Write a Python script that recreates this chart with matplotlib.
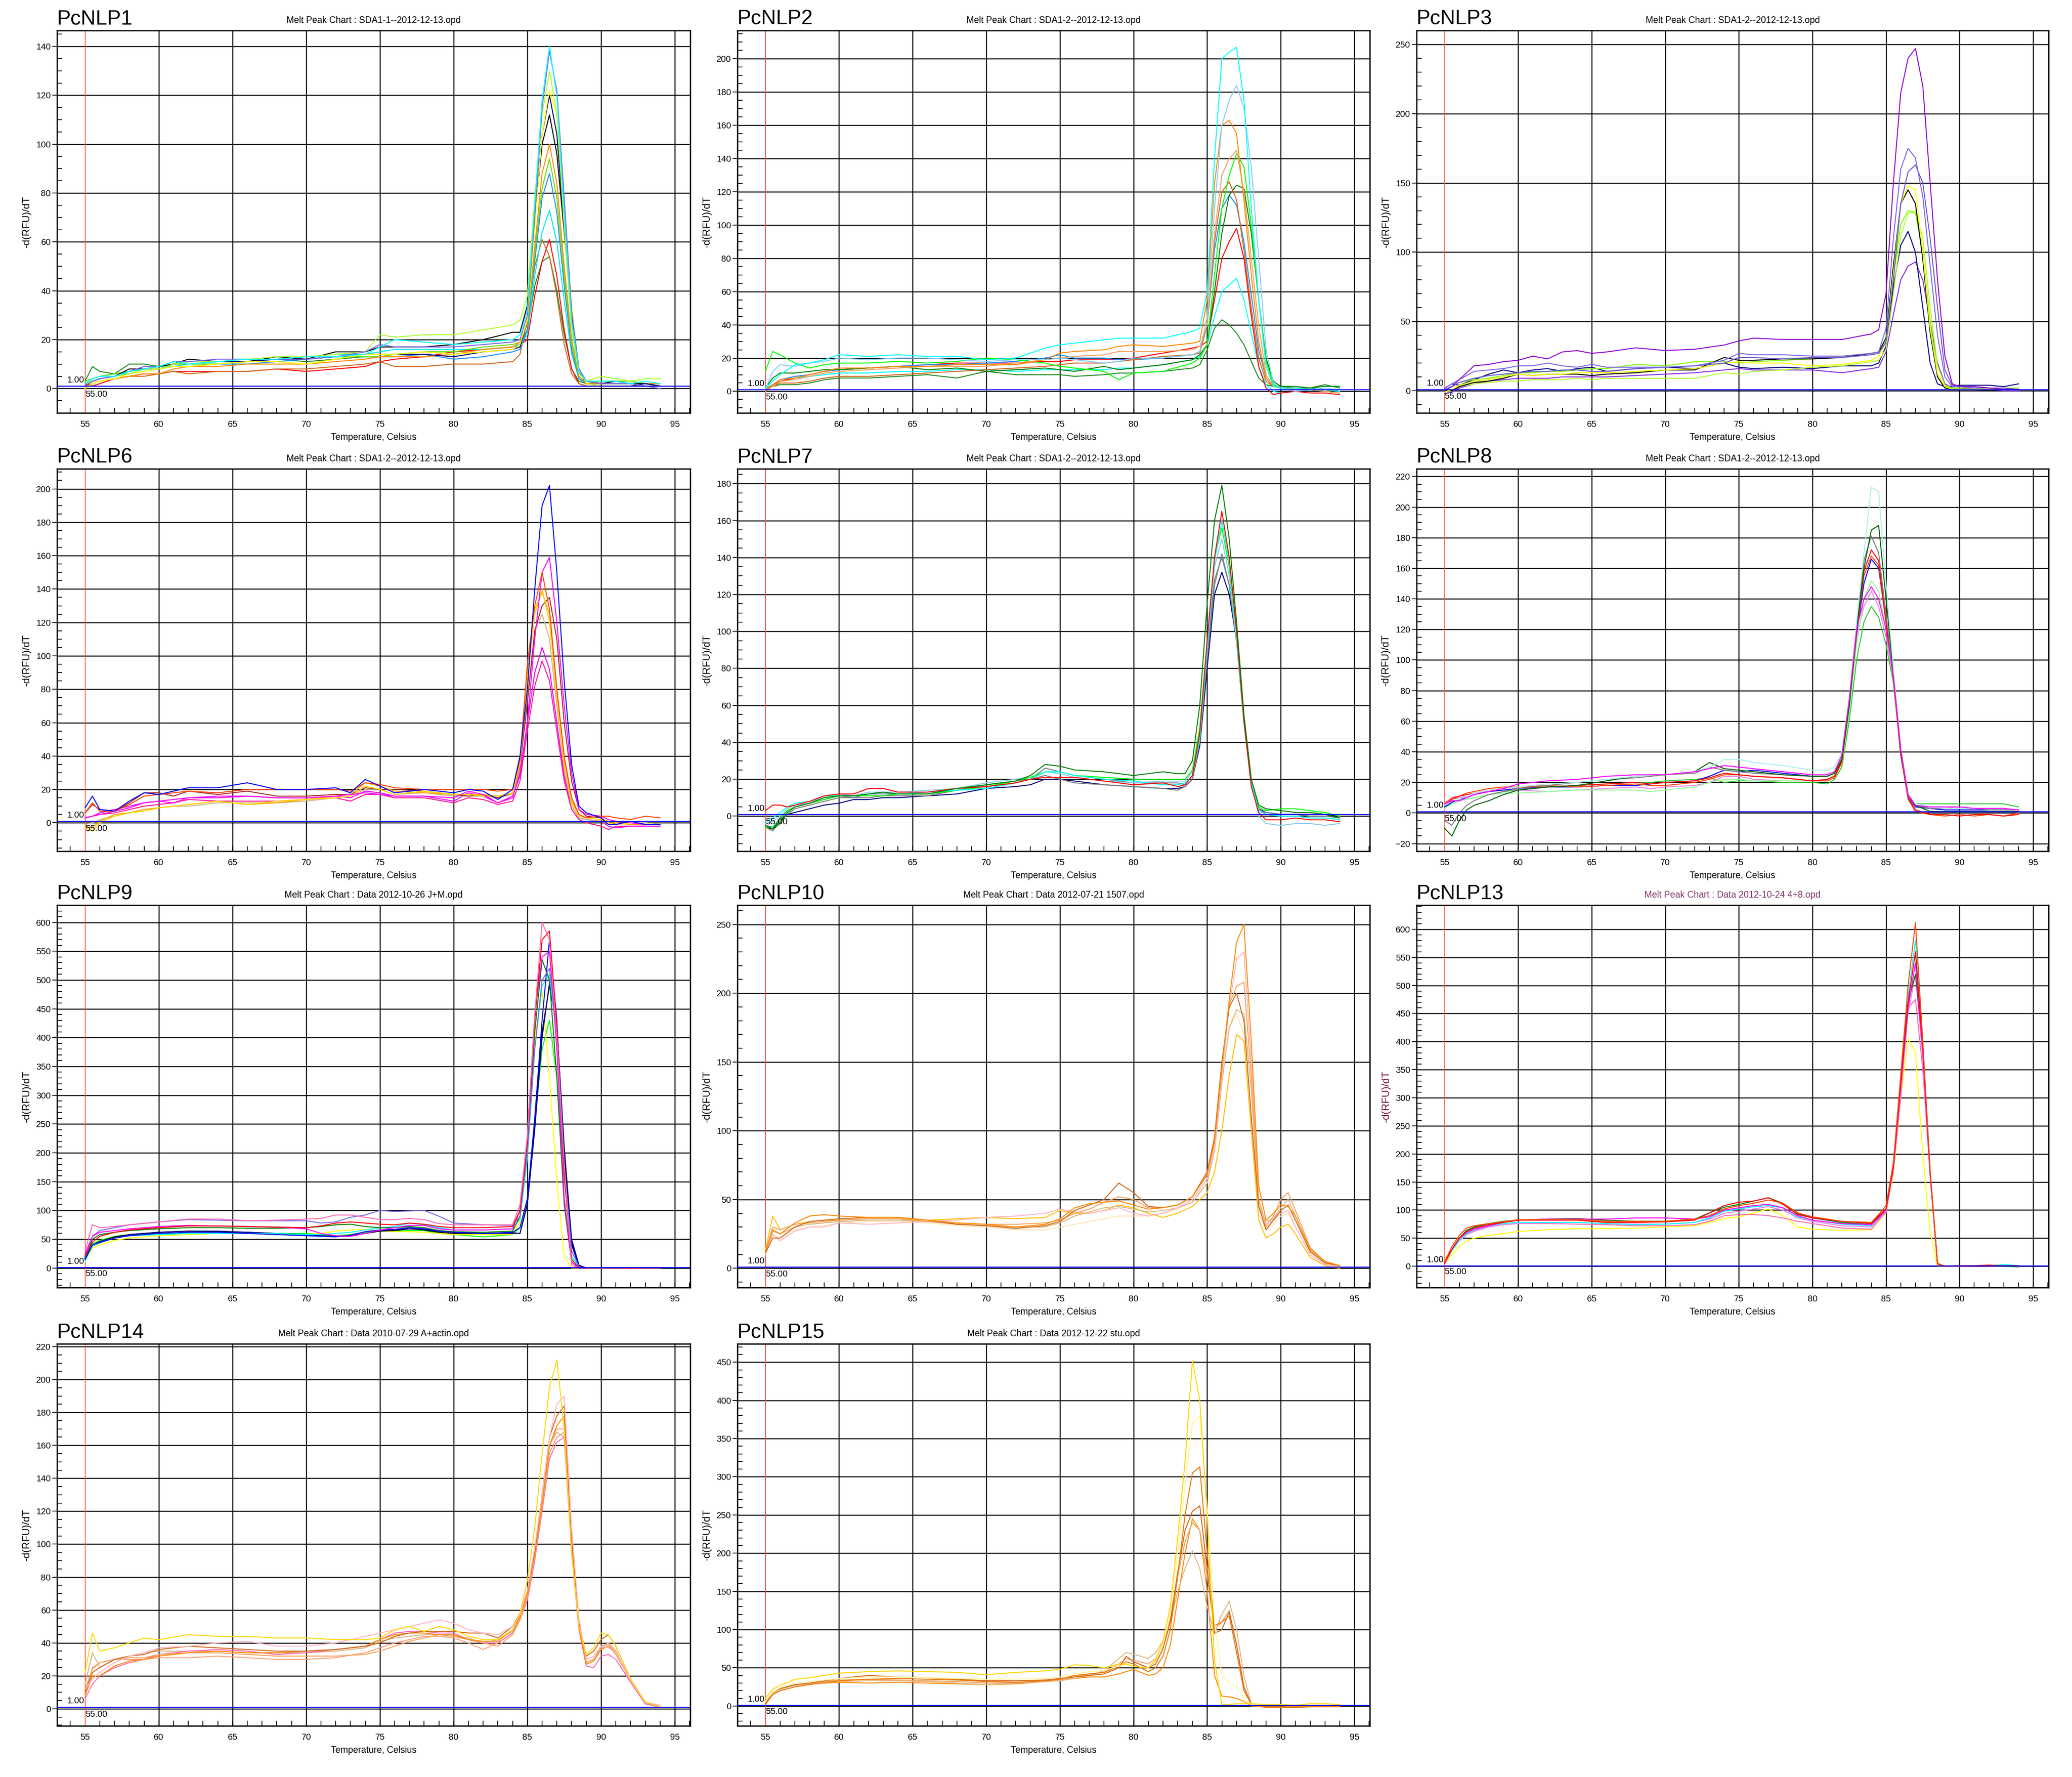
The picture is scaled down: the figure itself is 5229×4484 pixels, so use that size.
import matplotlib
matplotlib.use('Agg')
import matplotlib.pyplot as plt
from matplotlib.ticker import MultipleLocator

plt.rcParams['font.family'] = ['Liberation Sans', 'DejaVu Sans']

# ---------------- PcNLP1 ----------------
p1_temp = [55, 55.5, 56, 57, 58, 59, 60, 61, 62, 64, 66, 68, 70, 72, 74, 75, 76, 78, 80, 82, 84, 84.5,
           85, 85.5, 86, 86.5, 87, 87.5, 88, 88.5, 89, 90, 91, 92, 93, 94]
p1_cyan = [2, 4, 5, 5, 7, 8, 9, 11, 10, 11, 12, 12, 13, 13, 14, 17, 20, 19, 18, 19, 20, 22,
           32, 75, 118, 140, 120, 72, 28, 7, 3, 3, 3, 2, 3, 2]
p1_slate = [1, 3, 4, 5, 7, 9, 9, 11, 11, 12, 12, 12, 12, 13, 15, 18, 17, 17, 17, 18, 19, 20,
            30, 70, 115, 138, 122, 78, 32, 8, 3, 2, 2, 2, 1, 0]
p1_greenyellow = [2, 3, 4, 5, 6, 8, 8, 10, 11, 11, 12, 13, 13, 14, 15, 22, 21, 22, 22, 24, 26, 28,
                  38, 78, 112, 130, 112, 66, 24, 6, 3, 5, 4, 3, 4, 4]
p1_yellow = [0, 2, 3, 4, 6, 7, 8, 9, 9, 10, 11, 11, 10, 12, 14, 14, 14, 15, 14, 15, 16, 18,
             28, 66, 104, 122, 112, 76, 34, 8, 2, 1, 1, 1, 1, 1]
p1_navy = [1, 3, 4, 5, 7, 8, 8, 10, 11, 11, 11, 12, 12, 13, 14, 14, 14, 14, 13, 15, 16, 17,
           28, 68, 104, 120, 104, 66, 28, 7, 2, 1, 1, 1, 2, 1]
p1_black = [1, 3, 4, 5, 8, 8, 9, 10, 12, 11, 11, 13, 12, 15, 15, 17, 17, 17, 18, 20, 23, 23,
            34, 70, 100, 112, 96, 64, 30, 8, 3, 2, 3, 2, 2, 1]
p1_orange = [0, 2, 3, 4, 5, 6, 6, 8, 9, 9, 10, 10, 10, 11, 12, 13, 13, 13, 14, 16, 17, 19,
             26, 58, 88, 100, 84, 50, 20, 5, 2, 2, 2, 2, 2, 2]
p1_lime = [3, 4, 5, 6, 7, 8, 9, 10, 10, 10, 11, 12, 12, 13, 13, 13, 14, 15, 15, 17, 18, 19,
           26, 55, 82, 94, 78, 46, 18, 5, 2, 3, 3, 3, 2, 2]
p1_dodger = [2, 3, 4, 5, 6, 7, 8, 9, 9, 10, 10, 11, 12, 13, 13, 13, 13, 14, 12, 13, 15, 16,
             24, 52, 78, 88, 72, 42, 16, 4, 2, 2, 2, 2, 2, 1]
p1_cyan2 = [2, 4, 5, 6, 6, 8, 9, 9, 10, 10, 11, 12, 13, 14, 14, 15, 16, 16, 16, 16, 17, 18,
            22, 46, 64, 73, 60, 36, 14, 4, 2, 2, 2, 2, 2, 2]
p1_chocolate = [1, 2, 3, 4, 5, 5, 6, 7, 6, 7, 7, 8, 8, 9, 10, 11, 9, 9, 10, 10, 11, 14,
                28, 50, 61, 54, 38, 18, 6, 2, 1, 1, 1, 1, 1, 1]
p1_red = [2, 1, 2, 4, 5, 6, 6, 7, 7, 7, 7, 8, 7, 8, 9, 11, 12, 13, 15, 16, 17, 18,
          20, 38, 52, 61, 46, 24, 8, 2, 1, 1, 1, 1, 1, 1]
p1_green = [3, 9, 7, 6, 10, 10, 9, 10, 10, 11, 11, 12, 11, 12, 13, 13, 14, 15, 15, 16, 17, 18,
            24, 42, 52, 54, 40, 22, 8, 3, 2, 2, 2, 2, 2, 2]

# ---------------- PcNLP2 ----------------
p2_temp = [55, 55.5, 56, 57, 58, 59, 60, 62, 64, 66, 68, 70, 72, 74, 75, 76, 78, 79, 80, 82, 84, 84.5,
           85, 85.5, 86, 86.5, 87, 87.5, 88, 88.5, 89, 89.5, 90, 91, 92, 93, 94]
p2_cyan = [2, 6, 10, 16, 17, 19, 22, 21, 22, 21, 21, 19, 20, 26, 28, 29, 31, 32, 32, 32, 36, 38,
           60, 140, 200, 204, 207, 175, 110, 55, 15, 3, 2, 2, 1, 1, 0]
p2_skyblue = [1, 12, 16, 15, 17, 18, 20, 19, 20, 20, 19, 18, 19, 19, 20, 19, 17, 18, 20, 20, 22, 24,
              45, 110, 160, 175, 184, 170, 135, 80, 25, 5, 2, 0, 1, 2, 1]
p2_orange = [1, 4, 7, 8, 10, 12, 14, 14, 15, 15, 16, 16, 16, 19, 23, 24, 25, 27, 28, 27, 29, 30,
             55, 125, 160, 163, 155, 115, 70, 30, 8, 3, 2, 2, 1, 1, 0]
p2_sandy = [0, 3, 6, 7, 9, 11, 12, 13, 14, 15, 15, 15, 17, 19, 20, 21, 22, 24, 24, 24, 25, 27,
            40, 95, 130, 140, 145, 120, 80, 40, 10, 3, 2, 1, 1, 0, -1]
p2_lime = [12, 24, 22, 17, 14, 16, 17, 17, 18, 17, 18, 20, 19, 17, 15, 14, 12, 7, 11, 12, 17, 20,
           28, 70, 110, 130, 143, 135, 100, 55, 18, 4, 2, 2, 1, 0, -1]
p2_chocolate = [1, 3, 5, 5, 6, 8, 9, 9, 10, 11, 12, 13, 14, 15, 16, 17, 17, 18, 19, 21, 22, 23,
                40, 90, 120, 126, 115, 85, 50, 20, 6, 3, 2, 2, 1, 0, -1]
p2_green = [2, 8, 11, 11, 12, 13, 13, 14, 15, 13, 14, 12, 13, 14, 13, 12, 15, 13, 14, 16, 19, 22,
            28, 60, 95, 118, 124, 122, 95, 55, 20, 6, 3, 2, 2, 3, 3]
p2_dodger = [1, 4, 7, 9, 10, 12, 13, 14, 15, 16, 16, 17, 18, 20, 22, 20, 20, 19, 19, 20, 22, 24,
             40, 85, 110, 118, 112, 90, 58, 25, 8, 3, 2, 2, 2, 1, 0]
p2_red = [1, 4, 6, 8, 10, 12, 13, 14, 15, 16, 17, 17, 17, 18, 18, 19, 19, 19, 20, 23, 26, 27,
          30, 55, 80, 90, 98, 80, 45, 15, 2, -2, -1, 0, -1, -1, -2]
p2_cyan2 = [2, 4, 6, 8, 9, 10, 11, 11, 12, 12, 13, 13, 12, 13, 13, 13, 13, 14, 14, 16, 19, 21,
            28, 45, 60, 64, 68, 55, 35, 15, 4, 0, -1, 0, 1, 0, -1]
p2_forest = [1, 3, 4, 4, 5, 7, 8, 8, 9, 10, 8, 12, 10, 10, 10, 9, 10, 11, 11, 12, 14, 16,
             25, 38, 43, 40, 35, 28, 18, 8, 4, 3, 3, 3, 2, 4, 2]

# ---------------- PcNLP3 ----------------
p3_temp = [55, 55.5, 56, 57, 58, 59, 60, 61, 62, 63, 64, 65, 66, 68, 70, 72, 74, 75, 76, 78, 80, 82, 84, 84.5,
           85, 85.5, 86, 86.5, 87, 87.5, 88, 88.5, 89, 89.5, 90, 91, 92, 93, 94]
p3_violet = [0, 3, 8, 18, 19, 21, 22, 25, 23, 28, 29, 27, 28, 31, 29, 30, 33, 36, 38, 37, 37, 37, 41, 44,
             70, 150, 215, 240, 247, 220, 150, 80, 25, 5, 3, 3, 2, 1, 1]
p3_mslate = [2, 5, 8, 14, 15, 16, 18, 18, 20, 18, 17, 19, 17, 17, 17, 18, 22, 27, 26, 26, 25, 25, 27, 28,
             45, 110, 160, 175, 168, 140, 90, 40, 10, 3, 3, 2, 2, 1, 1]
p3_slate = [1, 3, 6, 9, 11, 12, 13, 14, 14, 15, 15, 14, 14, 16, 17, 18, 20, 24, 24, 23, 24, 24, 26, 27,
            35, 80, 135, 158, 163, 150, 110, 60, 15, 4, 3, 3, 2, 2, 1]
p3_yellow = [-1, 1, 4, 7, 8, 10, 12, 11, 12, 12, 13, 13, 13, 14, 15, 16, 20, 21, 20, 20, 18, 19, 22, 25,
             35, 85, 135, 148, 145, 100, 45, 12, 3, 1, 1, 1, 1, 1, 1]
p3_black = [0, 0, 3, 6, 7, 9, 12, 11, 12, 12, 12, 11, 12, 13, 15, 15, 24, 22, 22, 23, 23, 24, 27, 28,
            38, 90, 135, 145, 135, 95, 42, 10, 2, 1, 1, 1, 0, 1, 1]
p3_greenyellow = [-1, 0, 3, 5, 6, 7, 7, 8, 8, 8, 9, 8, 9, 9, 9, 9, 13, 12, 14, 15, 17, 18, 21, 22,
                  30, 70, 112, 128, 130, 110, 60, 18, 4, 2, 1, 1, 1, 1, 1]
p3_lawngreen = [1, 3, 6, 8, 9, 11, 13, 13, 14, 14, 15, 16, 16, 19, 18, 21, 21, 20, 21, 22, 23, 25, 27, 28,
                36, 82, 120, 130, 128, 100, 50, 12, 3, 2, 2, 2, 1, 2, 2]
p3_navy = [2, 5, 4, 8, 12, 15, 13, 15, 16, 14, 16, 17, 14, 16, 17, 16, 20, 17, 16, 17, 16, 18, 18, 20,
           32, 75, 105, 115, 100, 60, 20, 5, 3, 3, 4, 4, 4, 3, 5]
p3_blueviolet = [-2, -1, 2, 5, 7, 8, 9, 9, 9, 10, 10, 10, 10, 11, 12, 13, 15, 16, 15, 15, 15, 13, 16, 17,
                 28, 55, 80, 90, 93, 80, 50, 20, 5, 2, 2, 1, 1, 0, 0]

# ---------------- PcNLP6 ----------------
p6_temp = [55, 55.5, 56, 57, 58, 59, 60, 61, 62, 64, 66, 68, 70, 72, 73, 74, 75, 76, 78, 80, 81, 82, 83, 84,
           84.5, 85, 85.5, 86, 86.5, 87, 87.5, 88, 88.5, 89, 90, 90.5, 91, 92, 93, 94]
p6_blue = [9, 16, 8, 7, 13, 18, 17, 19, 21, 21, 24, 20, 20, 21, 18, 26, 22, 18, 20, 18, 20, 19, 14, 20,
           40, 80, 140, 190, 202, 150, 85, 35, 10, 6, 3, -1, -1, 1, -1, -1]
p6_orangered = [6, 12, 7, 7, 11, 16, 17, 18, 19, 18, 20, 20, 20, 20, 19, 24, 23, 21, 20, 20, 20, 20, 19, 20,
                38, 95, 130, 150, 128, 80, 40, 15, 5, 3, 4, 4, 3, 2, 4, 3]
p6_magenta = [3, 4, 5, 7, 9, 12, 13, 12, 15, 16, 16, 15, 15, 16, 17, 18, 17, 16, 16, 15, 19, 17, 12, 15,
              30, 60, 110, 150, 159, 120, 70, 30, 8, 5, 4, 2, 1, 0, -1, -1]
p6_gold = [-3, -5, 0, 4, 6, 7, 9, 10, 11, 13, 11, 13, 14, 15, 16, 22, 20, 17, 19, 17, 17, 16, 16, 18,
           35, 85, 125, 140, 120, 75, 35, 12, 4, 3, 2, 0, -1, 0, -1, -1]
p6_orange = [-2, -3, 1, 5, 6, 8, 9, 10, 11, 13, 11, 12, 14, 16, 17, 24, 22, 19, 18, 17, 17, 17, 16, 18,
             36, 88, 128, 138, 125, 80, 38, 13, 5, 3, 2, 1, 0, -1, -1, -1]
p6_brown = [6, 11, 8, 7, 12, 18, 18, 16, 19, 17, 19, 16, 16, 17, 17, 21, 20, 20, 19, 17, 16, 17, 15, 18,
            34, 72, 115, 130, 135, 110, 60, 25, 8, 4, 3, 0, -1, 0, -1, -1]
p6_tan = [-1, 0, 2, 4, 6, 8, 9, 10, 10, 12, 12, 12, 13, 15, 16, 20, 20, 17, 18, 16, 16, 16, 15, 17,
          32, 75, 115, 125, 110, 70, 32, 10, 3, 2, 1, 0, -1, 0, 0, -1]
p6_magenta2 = [3, 4, 6, 8, 10, 12, 13, 14, 15, 15, 16, 15, 15, 16, 15, 19, 18, 16, 16, 13, 18, 16, 12, 16,
               28, 60, 90, 105, 92, 60, 28, 10, 3, 2, 1, -2, -3, -2, -2, -2]
p6_deeppink = [3, 4, 5, 6, 8, 10, 11, 12, 14, 13, 13, 13, 14, 15, 13, 17, 17, 15, 15, 12, 15, 14, 11, 13,
               25, 55, 82, 97, 85, 55, 25, 8, 2, 0, -2, -4, -2, -2, -2, -2]

# ---------------- PcNLP7 ----------------
p7_temp = [55, 55.5, 56, 56.5, 57, 58, 59, 60, 61, 62, 63, 64, 66, 68, 70, 72, 73, 74, 75, 76, 78, 80, 82, 83, 83.5,
           84, 84.5, 85, 85.5, 86, 86.5, 87, 87.5, 88, 88.5, 89, 90, 91, 92, 93, 94]
p7_green = [-5, -7, -4, 2, 5, 7, 10, 11, 11, 12, 13, 12, 12, 15, 17, 19, 22, 28, 27, 25, 24, 22, 24, 23, 23,
            30, 60, 115, 160, 179, 150, 105, 55, 20, 6, 4, 3, 2, 2, 1, -1]
p7_red = [3, 6, 6, 5, 6, 8, 11, 12, 12, 15, 15, 13, 13, 15, 16, 18, 20, 21, 21, 21, 19, 17, 18, 16, 17,
          22, 45, 95, 140, 165, 140, 100, 52, 16, 2, -2, -2, -1, -2, -2, -3]
p7_cyan = [-3, -1, 2, 5, 7, 8, 11, 11, 11, 12, 13, 12, 13, 14, 15, 18, 20, 24, 24, 22, 20, 19, 17, 17, 18,
           22, 42, 92, 138, 160, 138, 98, 52, 18, 3, 1, 0, 0, -1, -1, -2]
p7_lime = [-6, -6, -2, 3, 5, 7, 9, 11, 11, 11, 11, 12, 12, 14, 16, 19, 21, 24, 24, 22, 21, 20, 20, 20, 20,
           25, 48, 95, 140, 156, 135, 98, 52, 18, 5, 3, 4, 4, 3, 2, 0]
p7_skyblue = [-4, -3, 0, 4, 6, 7, 11, 12, 11, 13, 13, 13, 14, 15, 18, 20, 21, 24, 23, 21, 19, 18, 19, 19, 19,
              24, 44, 90, 135, 150, 130, 95, 52, 18, 0, -4, -5, -4, -4, -5, -4]
p7_gray = [-6, -8, -3, 1, 4, 6, 8, 10, 10, 10, 11, 11, 11, 14, 17, 19, 20, 22, 20, 18, 17, 16, 15, 14, 16,
           20, 40, 85, 125, 142, 125, 95, 52, 18, 4, 1, 0, 0, -1, -1, -2]
p7_navy = [-6, -7, -2, 1, 2, 4, 6, 7, 9, 9, 10, 10, 11, 12, 15, 16, 17, 20, 20, 19, 17, 16, 15, 15, 16,
           20, 38, 80, 120, 132, 120, 95, 52, 18, 4, 2, 1, 1, 1, 1, 0]
p7_slategray = [-5, -6, -1, 3, 5, 7, 9, 11, 10, 12, 12, 12, 12, 14, 16, 18, 20, 26, 24, 22, 20, 18, 18, 18, 17,
                22, 42, 88, 128, 140, 125, 94, 50, 17, 3, 2, 1, 1, 0, 0, -1]

# ---------------- PcNLP8 ----------------
p8_temp = [55, 55.5, 56, 56.5, 57, 58, 59, 60, 62, 64, 66, 68, 69, 70, 72, 73, 74, 75, 76, 78, 80, 81,
           81.5, 82, 82.5, 83, 83.5, 84, 84.5, 85, 85.5, 86, 86.5, 87, 88, 89, 90, 91, 92, 93, 94]
p8_turquoise = [5, 8, 9, 11, 13, 15, 16, 17, 19, 20, 22, 24, 25, 25, 27, 30, 35, 35, 33, 31, 28, 28,
                30, 40, 75, 125, 170, 213, 210, 150, 95, 42, 12, 6, 4, 3, 3, 3, 3, 3, 2]
p8_darkgreen = [-10, -15, -5, 2, 5, 8, 12, 15, 17, 18, 21, 24, 25, 25, 27, 33, 29, 28, 27, 25, 24, 24,
                26, 35, 70, 120, 160, 185, 188, 140, 92, 40, 12, 5, 1, 1, 1, 1, 1, 1, 1]
p8_gray = [-5, -8, 0, 5, 8, 12, 14, 16, 18, 20, 22, 23, 24, 25, 26, 30, 28, 27, 26, 25, 24, 24,
           26, 36, 72, 122, 165, 181, 170, 130, 90, 40, 11, 5, 3, 3, 3, 3, 2, 2, 2]
p8_red = [5, 9, 11, 12, 13, 15, 16, 17, 17, 18, 19, 20, 19, 20, 21, 23, 26, 25, 24, 23, 21, 22,
          24, 34, 72, 120, 158, 172, 165, 125, 88, 38, 10, 2, -1, -1, -2, -1, -1, -2, -1]
p8_orangered = [6, 10, 11, 13, 14, 16, 17, 17, 18, 17, 18, 19, 18, 18, 20, 22, 25, 25, 24, 23, 21, 21,
                23, 33, 70, 118, 155, 168, 162, 124, 88, 38, 9, 1, -1, -2, -1, -2, -1, -2, 0]
p8_blue = [4, 7, 9, 10, 12, 14, 15, 16, 17, 17, 18, 18, 19, 20, 21, 24, 28, 27, 28, 26, 24, 24,
           26, 35, 70, 117, 150, 166, 160, 125, 90, 40, 11, 4, 3, 2, 2, 2, 2, 2, 2]
p8_palegreen = [3, 6, 8, 9, 10, 12, 13, 13, 14, 15, 15, 15, 14, 15, 17, 20, 22, 22, 21, 21, 21, 22,
                25, 32, 65, 110, 140, 152, 145, 120, 88, 38, 10, 4, 3, 3, 3, 3, 3, 3, 2]
p8_magenta = [6, 8, 8, 10, 12, 14, 16, 19, 21, 22, 24, 25, 25, 25, 27, 29, 31, 30, 29, 27, 25, 25,
              27, 38, 74, 120, 140, 148, 140, 120, 90, 42, 12, 5, 4, 4, 4, 3, 3, 3, 2]
p8_violet = [7, 9, 10, 11, 13, 14, 15, 15, 14, 15, 16, 17, 16, 17, 18, 20, 24, 24, 22, 21, 21, 22,
             24, 33, 70, 115, 135, 145, 135, 115, 88, 40, 12, 5, 4, 4, 3, 3, 3, 3, 2]
p8_limegreen = [4, 6, 8, 9, 10, 12, 14, 15, 17, 18, 19, 20, 20, 21, 22, 23, 20, 21, 21, 20, 20, 19,
                22, 30, 60, 100, 125, 135, 128, 110, 85, 40, 12, 6, 6, 6, 6, 6, 6, 6, 4]

# ---------------- PcNLP9 ----------------
p9_temp = [55, 55.5, 56, 57, 58, 60, 62, 64, 66, 68, 70, 71, 72, 73, 74, 75, 76, 77, 78, 79, 80, 82, 84,
           84.5, 85, 85.5, 86, 86.5, 87, 87.5, 88, 88.5, 89, 90, 91, 92, 93, 94]
p9_hotpink = [30, 75, 70, 72, 75, 80, 85, 85, 82, 83, 85, 86, 92, 92, 88, 84, 84, 86, 84, 77, 75, 75, 75,
              110, 230, 440, 600, 570, 400, 180, 5, 0, 0, 0, 0, 0, 0, 0]
p9_mslate = [20, 55, 65, 70, 75, 80, 84, 83, 82, 82, 82, 78, 80, 88, 92, 100, 98, 99, 100, 90, 78, 75, 74,
             90, 200, 380, 500, 520, 420, 180, 30, 2, 0, 0, 1, 0, 1, 1]
p9_red = [20, 45, 55, 62, 66, 70, 73, 73, 72, 71, 70, 73, 78, 80, 78, 76, 75, 78, 76, 72, 70, 70, 72,
          100, 220, 430, 570, 585, 420, 160, 15, 0, 0, 0, 0, -1, 0, 0]
p9_blue = [15, 40, 45, 52, 56, 60, 62, 62, 60, 58, 56, 55, 54, 57, 63, 66, 67, 70, 68, 64, 62, 60, 62,
           70, 120, 260, 430, 570, 430, 170, 40, 3, 0, 0, 0, 0, 0, 0]
p9_green = [18, 50, 58, 62, 65, 68, 70, 70, 69, 69, 70, 72, 75, 76, 72, 70, 70, 72, 70, 65, 63, 62, 64,
            90, 210, 410, 535, 500, 330, 110, 10, 0, 0, 0, 0, 0, 0, 0]
p9_cyan = [12, 38, 45, 52, 56, 58, 60, 60, 60, 60, 58, 58, 60, 62, 66, 70, 72, 78, 75, 70, 66, 66, 68,
           85, 190, 380, 490, 510, 400, 160, 20, 2, 0, 1, 1, 1, 1, 0]
p9_navy = [15, 38, 44, 52, 58, 62, 64, 64, 62, 60, 58, 56, 55, 55, 60, 65, 67, 68, 67, 64, 62, 60, 60,
           60, 110, 240, 400, 495, 420, 210, 50, 5, 0, 0, 0, 0, 0, 0]
p9_yellow = [12, 35, 40, 48, 52, 56, 58, 60, 60, 58, 58, 60, 64, 66, 67, 64, 63, 63, 62, 60, 58, 58, 58,
             80, 200, 400, 480, 330, 150, 20, 0, 0, 0, 0, 0, 0, 0, 0]
p9_lime = [18, 42, 48, 55, 58, 60, 60, 60, 60, 60, 60, 58, 56, 58, 62, 64, 64, 65, 65, 60, 58, 54, 58,
           70, 120, 250, 380, 430, 330, 120, 20, 2, 0, 0, 0, 0, 0, 0]
p9_magenta = [25, 55, 62, 65, 68, 72, 74, 73, 72, 71, 68, 60, 56, 55, 60, 66, 70, 74, 74, 68, 66, 66, 68,
              100, 230, 440, 540, 550, 380, 120, 10, 0, 0, 0, 0, 0, 0, 0]
p9_black = [16, 40, 46, 54, 58, 62, 64, 63, 62, 60, 58, 55, 55, 56, 60, 64, 65, 68, 66, 62, 60, 60, 61,
            60, 112, 245, 410, 490, 420, 200, 45, 4, 0, 0, 0, 0, 0, 0]

# ---------------- PcNLP10 ----------------
p10_temp = [55, 55.5, 56, 57, 58, 59, 60, 62, 64, 66, 68, 70, 72, 74, 75, 76, 77, 78, 79, 80, 81, 82, 83, 84,
            85, 85.5, 86, 86.5, 87, 87.5, 88, 88.5, 89, 89.5, 90, 90.5, 91, 92, 93, 94]
p10_darkorange = [12, 28, 25, 33, 38, 39, 38, 37, 37, 35, 33, 32, 30, 32, 36, 44, 47, 48, 49, 46, 43, 44, 46, 52,
                  68, 92, 145, 195, 237, 250, 165, 60, 35, 40, 46, 45, 38, 14, 5, 2]
p10_chocolate = [11, 22, 22, 30, 34, 35, 36, 37, 37, 35, 32, 31, 29, 31, 34, 42, 46, 50, 62, 55, 45, 44, 46, 52,
                 70, 95, 150, 190, 200, 180, 110, 45, 28, 35, 42, 46, 35, 12, 4, 2]
p10_pink = [12, 25, 20, 27, 30, 30, 33, 32, 33, 34, 35, 37, 38, 40, 43, 41, 40, 42, 44, 40, 38, 40, 44, 50,
            65, 88, 140, 190, 225, 230, 150, 50, 32, 35, 40, 42, 30, 10, 3, 1]
p10_sandy = [12, 30, 28, 32, 33, 34, 35, 36, 36, 34, 33, 32, 32, 33, 35, 40, 43, 48, 52, 50, 44, 44, 46, 52,
             70, 95, 148, 192, 205, 208, 140, 50, 30, 38, 50, 55, 42, 15, 5, 2]
p10_burlywood = [11, 27, 25, 30, 32, 33, 34, 35, 35, 34, 32, 31, 30, 30, 33, 38, 41, 44, 45, 43, 41, 42, 44, 48,
                 62, 85, 135, 175, 188, 185, 130, 45, 34, 36, 44, 50, 38, 13, 4, 1]
p10_gold = [13, 38, 28, 32, 34, 35, 35, 36, 36, 35, 36, 37, 36, 37, 42, 40, 40, 42, 46, 44, 40, 37, 40, 45,
            55, 70, 100, 140, 170, 165, 100, 35, 22, 25, 30, 32, 25, 8, 2, 0]
p10_moccasin = [10, 24, 22, 28, 30, 31, 33, 34, 34, 33, 31, 30, 28, 28, 30, 32, 34, 36, 38, 38, 38, 40, 43, 48,
                62, 85, 135, 175, 185, 170, 110, 40, 28, 32, 38, 40, 30, 10, 3, 1]

# ---------------- PcNLP13 ----------------
p13_temp = [55, 55.5, 56, 56.5, 57, 58, 59, 60, 62, 64, 66, 68, 70, 72, 73, 74, 75, 76, 77, 78, 79, 80, 82, 84,
            84.5, 85, 85.5, 86, 86.5, 87, 87.5, 88, 88.5, 89, 90, 91, 92, 93, 94]
p13_orangered = [8, 35, 55, 68, 72, 76, 79, 83, 83, 83, 80, 80, 80, 84, 90, 102, 108, 112, 118, 112, 95, 88, 80, 78,
                 92, 108, 185, 340, 500, 612, 400, 170, 5, 0, 0, 0, 1, 1, 0]
p13_red = [6, 30, 50, 62, 68, 74, 78, 82, 82, 82, 78, 78, 79, 82, 95, 108, 114, 116, 122, 110, 92, 86, 80, 76,
           90, 102, 178, 325, 470, 560, 390, 165, 4, 0, 1, 1, 2, 1, 1]
p13_green = [6, 30, 50, 64, 70, 76, 80, 82, 84, 85, 82, 80, 80, 84, 95, 105, 110, 116, 122, 112, 94, 86, 78, 74,
             88, 102, 180, 330, 470, 520, 390, 165, 5, 0, 0, 0, 0, 0, -1]
p13_cyan = [5, 28, 46, 58, 65, 72, 76, 78, 78, 78, 76, 74, 75, 78, 86, 98, 102, 106, 108, 104, 88, 82, 75, 72,
            86, 100, 178, 330, 480, 580, 400, 170, 4, 0, 0, 1, 1, 3, 1]
p13_magenta = [5, 30, 50, 60, 66, 72, 78, 82, 84, 84, 84, 86, 86, 84, 88, 100, 104, 108, 110, 104, 90, 82, 76, 74,
               86, 100, 176, 320, 460, 540, 380, 165, 5, 0, 0, 0, 0, 1, 0]
p13_violet = [4, 28, 45, 56, 62, 70, 74, 76, 78, 78, 76, 75, 75, 78, 84, 94, 98, 102, 106, 100, 86, 80, 72, 70,
              84, 98, 172, 310, 450, 520, 370, 160, 4, 0, 0, 0, 0, 0, 0]
p13_hotpink = [5, 30, 48, 58, 64, 70, 74, 76, 76, 75, 74, 72, 72, 74, 80, 90, 92, 92, 90, 86, 80, 76, 68, 66,
               82, 96, 170, 300, 460, 475, 350, 160, 4, 0, 0, 0, 0, 0, 0]
p13_yellow = [4, 20, 35, 45, 50, 55, 58, 62, 65, 67, 67, 68, 70, 72, 78, 85, 88, 95, 102, 90, 70, 66, 64, 65,
              80, 95, 165, 300, 405, 380, 200, 60, 0, 0, 0, 0, 0, 0, 0]

# ---------------- PcNLP14 ----------------
p14_temp = [55, 55.5, 56, 57, 58, 59, 60, 62, 64, 66, 68, 70, 72, 74, 75, 76, 77, 78, 79, 80, 81, 82, 83, 84,
            84.5, 85, 85.5, 86, 86.5, 87, 87.5, 88, 88.5, 89, 89.5, 90, 90.5, 91, 92, 93, 94]
p14_gold = [22, 46, 35, 37, 40, 43, 42, 45, 44, 44, 43, 43, 42, 42, 43, 48, 50, 47, 50, 48, 44, 42, 42, 48,
            58, 78, 110, 155, 195, 212, 170, 95, 50, 33, 37, 46, 45, 38, 18, 4, 1]
p14_pink = [12, 18, 22, 28, 32, 34, 37, 38, 40, 41, 38, 38, 40, 44, 46, 48, 50, 52, 54, 52, 48, 46, 45, 50,
            57, 72, 98, 130, 165, 185, 190, 110, 55, 30, 32, 38, 37, 34, 17, 4, 2]
p14_chocolate = [10, 22, 25, 30, 32, 33, 36, 38, 37, 36, 35, 35, 36, 38, 40, 44, 46, 47, 47, 47, 46, 46, 43, 50,
                 58, 72, 96, 130, 165, 178, 184, 105, 52, 32, 35, 42, 45, 38, 18, 4, 1]
p14_darkorange = [8, 20, 20, 26, 29, 30, 32, 34, 35, 34, 34, 35, 36, 38, 42, 45, 46, 46, 45, 45, 42, 41, 41, 48,
                  56, 70, 94, 125, 160, 172, 178, 100, 50, 27, 29, 36, 38, 34, 17, 4, 1]
p14_sandy = [10, 25, 28, 30, 31, 31, 33, 34, 34, 33, 32, 32, 32, 33, 35, 38, 41, 43, 45, 44, 42, 40, 38, 45,
             54, 68, 92, 122, 155, 165, 168, 98, 50, 28, 30, 37, 38, 33, 17, 4, 2]
p14_hotpink = [6, 15, 20, 25, 28, 30, 33, 35, 36, 35, 33, 34, 36, 38, 42, 46, 47, 47, 46, 46, 42, 40, 40, 46,
               54, 66, 90, 120, 152, 162, 165, 95, 48, 26, 25, 32, 33, 30, 16, 3, 1]
p14_tan = [15, 34, 25, 30, 32, 34, 35, 35, 35, 34, 34, 34, 35, 37, 41, 43, 44, 45, 45, 44, 43, 40, 42, 47,
           56, 70, 94, 125, 160, 168, 165, 100, 50, 28, 30, 38, 39, 35, 17, 3, 1]
p14_salmon = [12, 24, 28, 30, 30, 30, 31, 31, 32, 31, 30, 30, 31, 34, 37, 40, 42, 44, 44, 43, 40, 36, 40, 46,
              55, 70, 95, 128, 160, 170, 170, 100, 50, 28, 30, 38, 40, 35, 17, 3, 1]

# ---------------- PcNLP15 ----------------
p15_temp = [55, 55.5, 56, 57, 58, 60, 62, 64, 66, 68, 70, 72, 74, 75, 76, 77, 78, 79, 79.5, 80, 81,
            81.5, 82, 82.5, 83, 83.5, 84, 84.5, 85, 85.5, 86, 86.5, 87, 87.5, 88, 89, 90, 91, 92, 93, 94]
p15_gold = [10, 22, 27, 35, 37, 43, 45, 46, 45, 44, 41, 44, 46, 48, 54, 53, 50, 55, 55, 52, 50,
            60, 85, 130, 220, 320, 452, 400, 250, 60, 2, 2, 3, 3, 3, 2, 2, 1, 3, 3, 2]
p15_chiffon = [6, 18, 24, 30, 32, 36, 38, 38, 37, 36, 35, 35, 36, 38, 42, 45, 47, 52, 54, 52, 50,
               58, 80, 120, 200, 290, 370, 380, 260, 110, 40, 30, 25, 10, 2, 1, 1, 1, 1, 1, 1]
p15_darkorange = [2, 15, 20, 25, 28, 33, 35, 36, 35, 34, 32, 31, 33, 35, 40, 42, 44, 52, 58, 55, 45,
                  50, 65, 100, 170, 250, 305, 313, 200, 105, 110, 118, 70, 20, 2, -2, -2, -1, -1, -1, -1]
p15_chocolate = [3, 18, 23, 28, 30, 36, 40, 38, 37, 35, 33, 33, 34, 36, 38, 40, 42, 50, 65, 58, 50,
                 55, 75, 110, 175, 230, 255, 262, 180, 95, 100, 123, 80, 25, 2, -2, -2, -2, -1, 0, -1]
p15_orange = [5, 18, 22, 27, 29, 31, 30, 31, 30, 29, 28, 29, 32, 34, 36, 38, 38, 42, 45, 48, 40,
              42, 50, 80, 140, 200, 245, 230, 150, 40, 13, 12, 10, 6, 0, 0, 0, 0, 0, 0, 0]
p15_burlywood = [4, 17, 22, 27, 29, 32, 33, 33, 32, 30, 28, 30, 32, 33, 36, 40, 46, 62, 70, 68, 62,
                 70, 85, 110, 150, 180, 203, 180, 130, 95, 120, 137, 100, 40, 2, -2, -2, -1, -1, 0, -1]
p15_sandy = [3, 16, 22, 27, 30, 34, 35, 34, 33, 32, 30, 30, 32, 34, 38, 42, 44, 55, 62, 60, 55,
             62, 78, 115, 170, 215, 240, 230, 170, 100, 110, 125, 80, 25, 1, -2, -2, -1, -1, -1, -1]

# ---------------- layout / styles ----------------
W, H = 5229, 4484
COLS = [(144, 1742), (1861, 3457), (3575, 5170)]
ROWS = [(77, 1042), (1183, 2148), (2284, 3249), (3391, 4355)]

SDA2 = 'Melt Peak Chart : SDA1-2--2012-12-13.opd'
PANELS = [
    dict(name='PcNLP1', sub='Melt Peak Chart : SDA1-1--2012-12-13.opd', cell=(0, 0), temp=p1_temp,
         ylim=(-10, 146.5), major=20, minor=5,
         curves=[(p1_green, '#228b22'), (p1_red, '#ff0000'), (p1_chocolate, '#d2691e'), (p1_cyan2, '#00e5ee'),
                 (p1_dodger, '#1e90ff'), (p1_lime, '#66dd00'), (p1_orange, '#ff8c00'), (p1_black, '#000000'),
                 (p1_navy, '#000080'), (p1_yellow, '#ffff00'), (p1_greenyellow, '#adff2f'),
                 (p1_slate, '#7b68ee'), (p1_cyan, '#00ffff')]),
    dict(name='PcNLP2', sub=SDA2, cell=(1, 0), temp=p2_temp, ylim=(-13, 217), major=20, minor=5,
         curves=[(p2_forest, '#228b22'), (p2_cyan2, '#00ffff'), (p2_red, '#ff0000'), (p2_dodger, '#1e90ff'),
                 (p2_green, '#008000'), (p2_chocolate, '#d2691e'), (p2_lime, '#00ff00'), (p2_sandy, '#f4a460'),
                 (p2_orange, '#ff8c00'), (p2_skyblue, '#87cefa'), (p2_cyan, '#00ffff')]),
    dict(name='PcNLP3', sub=SDA2, cell=(2, 0), temp=p3_temp, ylim=(-16, 260), major=50, minor=10,
         curves=[(p3_blueviolet, '#8a2be2'), (p3_navy, '#000080'), (p3_greenyellow, '#adff2f'),
                 (p3_lawngreen, '#7cfc00'), (p3_black, '#000000'), (p3_yellow, '#ffff00'),
                 (p3_slate, '#6a5acd'), (p3_mslate, '#7b68ee'), (p3_violet, '#9400d3')]),
    dict(name='PcNLP6', sub=SDA2, cell=(0, 1), temp=p6_temp, ylim=(-17, 212), major=20, minor=5,
         curves=[(p6_deeppink, '#ff1493'), (p6_magenta2, '#ee00ee'), (p6_tan, '#d2b48c'), (p6_brown, '#a52a2a'),
                 (p6_orange, '#ffa500'), (p6_gold, '#ffd700'), (p6_magenta, '#ff00ff'),
                 (p6_orangered, '#ff4500'), (p6_blue, '#0000ff')]),
    dict(name='PcNLP7', sub=SDA2, cell=(1, 1), temp=p7_temp, ylim=(-19, 188), major=20, minor=5,
         curves=[(p7_navy, '#000080'), (p7_gray, '#808080'), (p7_slategray, '#708090'),
                 (p7_skyblue, '#87ceeb'), (p7_lime, '#00ff00'), (p7_cyan, '#00ffff'),
                 (p7_red, '#ff0000'), (p7_green, '#008000')]),
    dict(name='PcNLP8', sub=SDA2, cell=(2, 1), temp=p8_temp, ylim=(-25, 225), major=20, minor=5,
         curves=[(p8_limegreen, '#32cd32'), (p8_violet, '#ee82ee'), (p8_palegreen, '#98fb98'),
                 (p8_blue, '#0000ff'), (p8_orangered, '#ff4500'), (p8_red, '#ff0000'), (p8_gray, '#808080'),
                 (p8_darkgreen, '#006400'), (p8_turquoise, '#afeeee'), (p8_magenta, '#ff00ff')]),
    dict(name='PcNLP9', sub='Melt Peak Chart : Data 2012-10-26 J+M.opd', cell=(0, 2), temp=p9_temp,
         ylim=(-34, 630), major=50, minor=10,
         curves=[(p9_lime, '#00ff00'), (p9_yellow, '#ffff00'), (p9_black, '#000000'), (p9_navy, '#000080'),
                 (p9_cyan, '#00ffff'), (p9_green, '#008000'), (p9_blue, '#0000ff'), (p9_mslate, '#7b68ee'),
                 (p9_magenta, '#ff00ff'), (p9_red, '#ff0000'), (p9_hotpink, '#ff69b4')]),
    dict(name='PcNLP10', sub='Melt Peak Chart : Data 2012-07-21 1507.opd', cell=(1, 2), temp=p10_temp,
         ylim=(-14, 264), major=50, minor=10,
         curves=[(p10_moccasin, '#ffe4b5'), (p10_gold, '#ffc000'), (p10_burlywood, '#deb887'),
                 (p10_pink, '#ffb6c1'), (p10_sandy, '#f4a460'), (p10_chocolate, '#d2691e'),
                 (p10_darkorange, '#ff8c00')]),
    dict(name='PcNLP13', sub='Melt Peak Chart : Data 2012-10-24 4+8.opd', cell=(2, 2), temp=p13_temp,
         ylim=(-38, 643), major=50, minor=10, subcolor='#80306a', ycolor='#701030',
         curves=[(p13_yellow, '#ffff00'), (p13_hotpink, '#ff69b4'), (p13_violet, '#ee82ee'),
                 (p13_cyan, '#00ffff'), (p13_green, '#008000'), (p13_magenta, '#ff00ff'),
                 (p13_red, '#ff0000'), (p13_orangered, '#ff4500')]),
    dict(name='PcNLP14', sub='Melt Peak Chart : Data 2010-07-29 A+actin.opd', cell=(0, 3), temp=p14_temp,
         ylim=(-10.4, 221.7), major=20, minor=5,
         curves=[(p14_salmon, '#ffa07a'), (p14_tan, '#d2b48c'), (p14_hotpink, '#ff69b4'), (p14_sandy, '#f4a460'),
                 (p14_darkorange, '#ff8c00'), (p14_chocolate, '#d2691e'), (p14_pink, '#ffb6c1'),
                 (p14_gold, '#ffd700')]),
    dict(name='PcNLP15', sub='Melt Peak Chart : Data 2012-12-22 stu.opd', cell=(1, 3), temp=p15_temp,
         ylim=(-26, 474), major=50, minor=10,
         curves=[(p15_orange, '#ff8c00'), (p15_sandy, '#f4a460'), (p15_burlywood, '#deb887'),
                 (p15_chocolate, '#d2691e'), (p15_darkorange, '#f07800'), (p15_chiffon, '#fff5a0'),
                 (p15_gold, '#ffd700')]),
]

fig = plt.figure(figsize=(W / 300, H / 300), dpi=300)
fig.patch.set_facecolor('white')


def draw(spec):
    col, row = spec['cell']
    l, r = COLS[col]
    t, b = ROWS[row]
    ax = fig.add_axes([l / W, 1 - b / H, (r - l) / W, (b - t) / H])
    lo, hi = spec['ylim']
    ax.set_xlim(53.1, 96.05)
    ax.set_ylim(lo, hi)

    ax.xaxis.set_major_locator(MultipleLocator(5))
    ax.xaxis.set_minor_locator(MultipleLocator(1))
    ax.yaxis.set_major_locator(MultipleLocator(spec['major']))
    ax.yaxis.set_minor_locator(MultipleLocator(spec['minor']))

    # grid
    for x in range(60, 96, 5):
        ax.axvline(x, color='black', lw=0.6, zorder=1)
    ax.grid(axis='y', which='major', color='black', lw=0.6, zorder=1)
    ax.axvline(55, color='#ff5a3c', lw=0.5, zorder=2)

    temp = spec['temp']
    for vals, color in spec['curves']:
        n = min(len(temp), len(vals))
        ax.plot(temp[:n], vals[:n], color=color, lw=0.6, zorder=3)

    ax.axhline(1.0, color='#0000ff', lw=0.6, zorder=4)
    ax.annotate('1.00', xy=(55, 1.0), xytext=(-0.6, 1.0), textcoords='offset points',
                ha='right', va='bottom', fontsize=5.3)
    ax.annotate('55.00', xy=(55, 0), xytext=(0, -1.0), textcoords='offset points',
                ha='left', va='top', fontsize=5.3)

    for sp in ax.spines.values():
        sp.set_color('black')
        sp.set_linewidth(0.8)

    ax.tick_params(axis='y', which='major', direction='out', length=3, width=0.5, labelsize=5.3, pad=0.8)
    ax.tick_params(axis='y', which='minor', direction='in', length=3.2, width=0.5)
    ax.tick_params(axis='x', which='both', direction='in', length=3.1, width=0.5, labelsize=5.3, pad=4.5)

    ax.set_xlabel('Temperature, Celsius', fontsize=5.5, labelpad=2.5)
    ax.set_ylabel('-d(RFU)/dT', fontsize=6.2, labelpad=3, color=spec.get('ycolor', 'black'))
    ax.set_title(spec['sub'], fontsize=5.5, pad=4.5, color=spec.get('subcolor', 'black'))
    ax.annotate(spec['name'], xy=(0, 1), xycoords='axes fraction', xytext=(0, 3.6),
                textcoords='offset points', ha='left', va='baseline', fontsize=12.5)


for spec in PANELS:
    draw(spec)

fig.savefig('out.png', dpi=300, facecolor='white')
